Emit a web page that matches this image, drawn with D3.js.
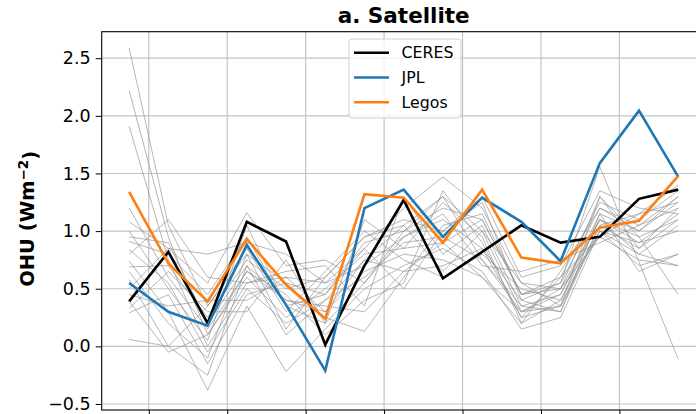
<!DOCTYPE html>
<html>
<head>
<meta charset="utf-8">
<script src="https://cdn.jsdelivr.net/npm/d3@7"></script>
<style>
  body { margin: 0; background: #fff; }
  svg { display: block; font-family: "DejaVu Sans", sans-serif; }
</style>
</head>
<body>
<div id="chart"></div>
<script>
// annual means, plotted at mid-year
const years = [2005.5, 2006.5, 2007.5, 2008.5, 2009.5, 2010.5, 2011.5, 2012.5,
               2013.5, 2014.5, 2015.5, 2016.5, 2017.5, 2018.5, 2019.5];
const xTicks = [2006, 2008, 2010, 2012, 2014, 2016, 2018];
const yTicks = [-0.5, 0.0, 0.5, 1.0, 1.5, 2.0, 2.5];

const ceres = [0.39, 0.82, 0.20, 1.08, 0.91, 0.015, 0.70, 1.27, 0.59, 0.82, 1.05, 0.90, 0.95, 1.28, 1.36];
const jpl   = [0.55, 0.30, 0.18, 0.88, 0.36, -0.21, 1.20, 1.36, 0.95, 1.29, 1.08, 0.74, 1.59, 2.045, 1.47];
const legos = [1.34, 0.72, 0.39, 0.93, 0.535, 0.24, 1.32, 1.29, 0.90, 1.36, 0.77, 0.72, 1.03, 1.09, 1.48];

// model ensemble (thin grey lines)
const models = [
  [2.59, 1.05, 0.35, 0.80, 0.55, 0.45, 0.90, 1.00, 1.20, 1.10, 0.45, 0.55, 1.20, 1.05, 1.30],
  [2.22, 0.95, 0.10, 0.65, 0.40, 0.30, 0.75, 1.05, 1.30, 1.00, 0.30, 0.45, 1.10, 0.95, 1.10],
  [1.91, 0.75, 0.00, 0.55, 0.60, 0.55, 0.85, 1.20, 1.47, 1.20, 0.55, 0.50, 1.30, 0.85, 1.20],
  [1.08, 0.85, 0.55, 1.16, 0.70, 0.75, 0.55, 0.95, 1.10, 0.85, 0.25, 0.35, 1.05, 1.15, 1.40],
  [0.91, 0.80, 0.45, 0.95, 0.35, 0.20, 1.10, 0.85, 1.25, 0.95, 0.20, 0.40, 1.00, 0.70, 0.80],
  [0.84, 0.55, -0.05, 0.50, 0.20, 0.40, 0.60, 0.90, 0.95, 0.75, 0.35, 0.30, 1.15, 1.00, 1.25],
  [0.74, 0.30, -0.38, 0.35, -0.22, 0.15, 0.50, 0.70, 0.85, 0.65, 0.15, 0.25, 1.00, 0.80, 1.05],
  [0.69, 0.70, 0.25, 0.75, 0.50, 0.60, 0.95, 1.10, 1.00, 1.30, 0.60, 0.70, 1.35, 1.20, 1.15],
  [0.58, 0.00, -0.25, 0.70, 0.40, 0.35, 0.30, 0.65, 0.70, 0.85, 0.40, 0.55, 1.56, 0.73, -0.11],
  [0.39, -0.05, 0.10, 0.60, 0.25, 0.50, 0.80, 0.85, 0.90, 0.60, 0.30, 0.35, 1.30, 0.95, 0.45],
  [0.29, 0.45, -0.15, 0.45, 0.55, 0.25, 0.13, 0.60, 1.05, 1.15, 0.45, 0.50, 0.95, 0.75, 0.70],
  [0.06, 0.00, 0.35, 0.85, 0.30, 0.65, 1.00, 0.75, 0.60, 0.80, 0.50, 0.40, 1.10, 0.90, 1.00],
  [1.20, 0.60, 0.15, 0.65, 0.45, 0.10, 0.40, 0.55, 1.35, 0.90, 0.25, 0.60, 1.25, 1.10, 1.35],
  [0.50, 0.85, 0.80, 0.90, 0.80, 0.55, 0.70, 0.95, 1.15, 0.70, 0.65, 0.75, 0.90, 1.05, 1.20],
  [0.80, 1.10, 0.60, 0.55, 0.65, 0.70, 0.35, 1.30, 0.80, 1.05, 0.35, 0.45, 1.15, 0.65, 0.80],
  [1.00, 0.50, 0.05, 1.05, 0.35, 0.45, 0.85, 0.50, 1.00, 1.25, 0.40, 0.30, 1.05, 0.85, 1.10],
  [0.45, 0.35, 0.40, 0.40, 0.60, 0.30, 0.65, 0.80, 0.75, 0.60, 0.20, 0.65, 1.20, 1.00, 1.30],
  [0.65, 0.20, -0.10, 0.80, 0.15, 0.60, 0.95, 1.05, 0.65, 1.00, 0.55, 0.35, 1.00, 0.90, 1.15],
  [0.33, 0.65, 0.30, 0.30, 0.75, 0.20, 0.55, 1.00, 1.30, 0.75, 0.30, 0.50, 1.10, 0.80, 0.70],
  [0.95, 0.90, 0.20, 0.70, 0.10, 0.40, 0.75, 0.65, 0.90, 1.10, 0.45, 0.60, 0.95, 1.15, 1.25]
];

const series = [
  { name: "CERES", values: ceres, color: "#000000" },
  { name: "JPL", values: jpl, color: "#1f77b4" },
  { name: "Legos", values: legos, color: "#ff7f0e" }
];

const W = 696, H = 414;
const margin = { top: 31.7, left: 101.7 },
    width = 604,
    height = 378.3;

const svg = d3.select("#chart").append("svg")
    .attr("width", W)
    .attr("height", H);

const g = svg.append("g")
    .attr("transform", `translate(${margin.left},${margin.top})`);

const x = d3.scaleLinear().domain([2004.8, 2020.2]).range([0, width]);
const y = d3.scaleLinear().domain([-0.552, 2.73]).range([height, 0]);

// grid
g.append("g")
    .selectAll("line")
    .data(yTicks)
    .join("line")
    .attr("x1", 0).attr("x2", width)
    .attr("y1", d => y(d)).attr("y2", d => y(d))
    .attr("stroke", "#c4c4c4").attr("stroke-width", 1.2);
g.append("g")
    .selectAll("line")
    .data(xTicks)
    .join("line")
    .attr("x1", d => x(d)).attr("x2", d => x(d))
    .attr("y1", 0).attr("y2", height)
    .attr("stroke", "#c4c4c4").attr("stroke-width", 1.2);

const line = d3.line()
    .x((d, i) => x(years[i]))
    .y(d => y(d));

// models
g.append("g")
    .selectAll("path")
    .data(models)
    .join("path")
    .attr("d", line)
    .attr("fill", "none")
    .attr("stroke", "#8a8a8a")
    .attr("stroke-opacity", 0.7)
    .attr("stroke-width", 0.9);

// observations
g.append("g")
    .selectAll("path")
    .data(series)
    .join("path")
    .attr("d", d => line(d.values))
    .attr("fill", "none")
    .attr("stroke", d => d.color)
    .attr("stroke-width", 2.6)
    .attr("stroke-linejoin", "miter");

// axes
const yAxis = g.append("g")
    .call(d3.axisLeft(y).tickValues(yTicks).tickSize(6).tickPadding(5).tickFormat(d3.format(".1f")));
yAxis.select(".domain").remove();
yAxis.selectAll("text")
    .attr("font-size", "17.5px")
    .attr("fill", "#000")
    .attr("font-family", "DejaVu Sans");

const xAxis = g.append("g")
    .attr("transform", `translate(0,${height})`)
    .call(d3.axisBottom(x).tickValues(xTicks).tickSize(6).tickFormat(""));
xAxis.select(".domain").remove();

// spines
g.append("rect")
    .attr("x", 0).attr("y", 0)
    .attr("width", width).attr("height", height)
    .attr("fill", "none")
    .attr("stroke", "#000")
    .attr("stroke-width", 1.1);

// title
svg.append("text")
    .attr("x", margin.left + width / 2)
    .attr("y", 23)
    .attr("text-anchor", "middle")
    .attr("font-size", "21.5px")
    .attr("font-weight", "bold")
    .text("a. Satellite");

// y label
const yl = svg.append("text")
    .attr("transform", `translate(34,${margin.top + height / 2 - 2}) rotate(-90)`)
    .attr("text-anchor", "middle")
    .attr("font-size", "19.5px")
    .attr("font-weight", "bold");
yl.append("tspan").text("OHU (Wm");
yl.append("tspan").attr("dy", "-0.45em").attr("font-size", "13.5px").text("\u22122");
yl.append("tspan").attr("dy", "0.45em").text(")");

// legend
const lg = svg.append("g").attr("transform", "translate(349,39)");
lg.append("rect")
    .attr("width", 112).attr("height", 79)
    .attr("rx", 3)
    .attr("fill", "#fff").attr("fill-opacity", 0.8)
    .attr("stroke", "#d0d0d0");
const item = lg.selectAll(".item")
    .data(series)
    .join("g")
    .attr("class", "item")
    .attr("transform", (d, i) => `translate(0,${13.7 + i * 24.8})`);
item.append("line")
    .attr("x1", 5).attr("x2", 40)
    .attr("stroke", d => d.color)
    .attr("stroke-width", 2.6);
item.append("text")
    .attr("x", 52.5)
    .attr("dy", "0.36em")
    .attr("font-size", "15.8px")
    .text(d => d.name);
</script>
</body>
</html>
